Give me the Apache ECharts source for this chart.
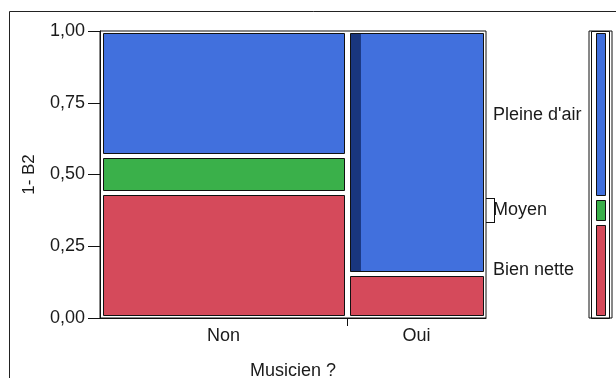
<!DOCTYPE html>
<html>
<head>
<meta charset="utf-8">
<script src="https://cdn.jsdelivr.net/npm/echarts@6.0.0/dist/echarts.min.js"></script>
<style>
  html, body { margin: 0; padding: 0; background: #fff; }
  #main { width: 616px; height: 378px; }
</style>
</head>
<body>
<div id="main"></div>
<script>
// mosaic: Musicien ? x 1- B2
var categories = ['Non', 'Oui'];
var levels = ['Bien nette', 'Moyen', "Pleine d'air"];
var colShare = [0.64, 0.36];
var nonShares = [0.435, 0.128, 0.437];
var ouiShares = [0.152, 0, 0.848];
var totalShares = [0.332, 0.085, 0.583];
var selectedShare = [0, 0.075]; // lignes sélectionnées (bande foncée) dans "Pleine d'air"
var yTicks = [0, 0.25, 0.5, 0.75, 1];

var colors = ['#d54a5b', '#3ab04a', '#4170dd'];
var selColor = '#19367e';
var font = "'Liberation Sans', Arial, sans-serif";
var txt = '#1a1a1a';

// tiles [x0, x1, y0, y1, level, selected]
var tiles = [];
var x0 = 0;
[nonShares, ouiShares].forEach(function (shares, i) {
  var y0 = 0;
  shares.forEach(function (s, j) {
    if (s > 0) {
      tiles.push([x0, x0 + colShare[i], y0, y0 + s, j, j === 2 ? selectedShare[i] : 0]);
    }
    y0 += s;
  });
  x0 += colShare[i];
});

var margTiles = [];
var cum = 0;
var margMid = [];
var margBounds = [];
totalShares.forEach(function (s, j) {
  margTiles.push([0, 1, cum, cum + s, j, 0]);
  margMid.push(cum + s / 2);
  cum += s;
  margBounds.push(cum);
});

var colMid = [];
var acc = 0;
colShare.forEach(function (w) { colMid.push(acc + w / 2); acc += w; });

function tileRenderer(gx, gy) {
  return function (params, api) {
    var a = api.coord([api.value(0), api.value(3)]);
    var b = api.coord([api.value(1), api.value(2)]);
    var x = Math.round(a[0] + gx) + 0.5;
    var y = Math.round(a[1] + gy) + 0.5;
    var w = Math.round(b[0] - gx) - 0.5 - x;
    var h = Math.round(b[1] - gy) - 0.5 - y;
    var kids = [{
      type: 'rect', shape: { x: x, y: y, width: w, height: h },
      style: { fill: colors[api.value(4)], stroke: null }
    }];
    var sel = api.value(5);
    if (sel > 0) {
      kids.push({
        type: 'rect', shape: { x: x, y: y, width: (b[0] - a[0]) * sel, height: h },
        style: { fill: selColor }
      });
    }
    kids.push({
      type: 'rect', shape: { x: x, y: y, width: w, height: h },
      style: { fill: null, stroke: '#111', lineWidth: 1 }
    });
    return { type: 'group', children: kids };
  };
}

var chart = echarts.init(document.getElementById('main'));
chart.setOption({
  animation: false,
  backgroundColor: '#fff',
  textStyle: { fontFamily: font },
  graphic: [{
    type: 'rect', shape: { x: 9.5, y: 11.5, width: 700, height: 500 },
    style: { fill: null, stroke: '#222', lineWidth: 1 }, silent: true, z: -1
  }],
  grid: [
    { left: 100, right: 130, top: 31, bottom: 60, outerBoundsMode: 'none', show: true, borderColor: '#111', borderWidth: 1 },
    { left: 589, right: 4, top: 31, bottom: 60, outerBoundsMode: 'none', show: true, borderColor: '#111', borderWidth: 1 }
  ],
  xAxis: [{
    type: 'value', gridIndex: 0, min: 0, max: 1,
    name: 'Musicien ?', nameLocation: 'middle', nameGap: 44,
    nameTextStyle: { fontSize: 18, color: txt, fontFamily: font },
    axisLine: { show: true, lineStyle: { color: '#111' } },
    axisTick: { show: true, length: 8, customValues: [colShare[0]], lineStyle: { color: '#111' } },
    axisLabel: {
      customValues: colMid, margin: 9, fontSize: 18, color: txt, fontFamily: font,
      formatter: function (v) {
        var k = colMid.indexOf(v);
        return k >= 0 ? categories[k] : '';
      }
    },
    splitLine: { show: false }
  }, {
    type: 'value', gridIndex: 1, min: 0, max: 1, show: false
  }],
  yAxis: [{
    type: 'value', gridIndex: 0, min: 0, max: 1, interval: 0.25,
    name: '1- B2', nameLocation: 'middle', nameGap: 62,
    nameTextStyle: { fontSize: 17, color: txt, fontFamily: font },
    axisLine: { show: true, lineStyle: { color: '#111' } },
    axisTick: { show: true, length: 12, lineStyle: { color: '#111' } },
    axisLabel: {
      margin: 15, fontSize: 18, color: txt, fontFamily: font,
      formatter: function (v) { return v.toFixed(2).replace('.', ','); }
    },
    splitLine: { show: false }
  }, {
    type: 'value', gridIndex: 0, min: 0, max: 1, position: 'right',
    axisLine: { show: false },
    axisTick: { show: true, length: 9, customValues: [margBounds[0], margBounds[1]], lineStyle: { color: '#111' } },
    axisLabel: {
      customValues: margMid, margin: 7, fontSize: 18, color: txt, fontFamily: font,
      formatter: function (v) {
        var k = margMid.indexOf(v);
        return k >= 0 ? levels[k] : '';
      }
    },
    splitLine: { show: false }
  }, {
    type: 'value', gridIndex: 1, min: 0, max: 1, show: false
  }],
  series: [{
    type: 'custom', xAxisIndex: 0, yAxisIndex: 0,
    renderItem: tileRenderer(2.5, 2),
    encode: { x: [0, 1], y: [2, 3] },
    data: tiles
  }, {
    // crochet de "Moyen" sur l'axe de droite
    type: 'custom', xAxisIndex: 0, yAxisIndex: 1, clip: false,
    renderItem: function (params, api) {
      var a = api.coord([1, api.value(0)]);
      var b = api.coord([1, api.value(1)]);
      var x = Math.round(a[0] + 8) + 0.5;
      return { type: 'line', shape: { x1: x, y1: a[1], x2: x, y2: b[1] }, style: { stroke: '#111', lineWidth: 1 } };
    },
    data: [[margBounds[0], margBounds[1]]]
  }, {
    type: 'custom', xAxisIndex: 1, yAxisIndex: 2,
    renderItem: function (params, api) {
      var a = api.coord([0, 1]);
      var b = api.coord([1, 0]);
      return {
        type: 'rect', shape: { x: Math.round(a[0]) + 2.5, y: Math.round(a[1]) + 0.5, width: b[0] - a[0] - 5, height: b[1] - a[1] },
        style: { fill: null, stroke: '#111', lineWidth: 1 }
      };
    },
    data: [[0]]
  }, {
    type: 'custom', xAxisIndex: 1, yAxisIndex: 2,
    renderItem: tileRenderer(6.5, 2),
    encode: { x: [0, 1], y: [2, 3] },
    data: margTiles
  }]
});
</script>
</body>
</html>
